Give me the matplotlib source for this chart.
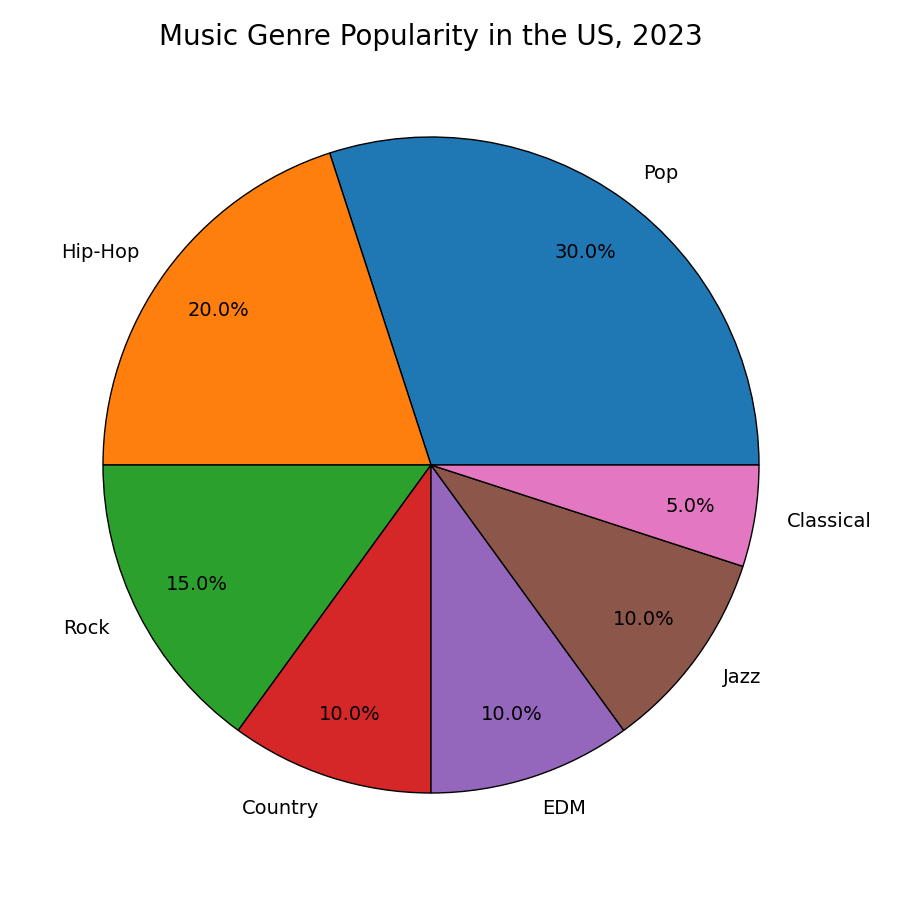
import matplotlib
matplotlib.use("Agg")
import matplotlib.pyplot as plt

genres = ["Pop", "Hip-Hop", "Rock", "Country", "EDM", "Jazz", "Classical"]
shares = [30, 20, 15, 10, 10, 10, 5]

fig = plt.figure(figsize=(9, 9), dpi=100)
r = 328 / 900
cx, cy = 431 / 900, (900 - 465) / 900
ax = fig.add_axes([cx - 1.25 * r, cy - 1.25 * r, 2.5 * r, 2.5 * r])
ax.pie(shares, labels=genres, autopct="%1.1f%%", pctdistance=0.8,
       wedgeprops=dict(edgecolor="black", linewidth=1),
       textprops=dict(fontsize=14))
ax.set_xlim(-1.25, 1.25)
ax.set_ylim(-1.25, 1.25)
fig.suptitle("Music Genre Popularity in the US, 2023", fontsize=20,
             x=cx, y=(900 - 37) / 900, va="center")
fig.savefig("out.png")
